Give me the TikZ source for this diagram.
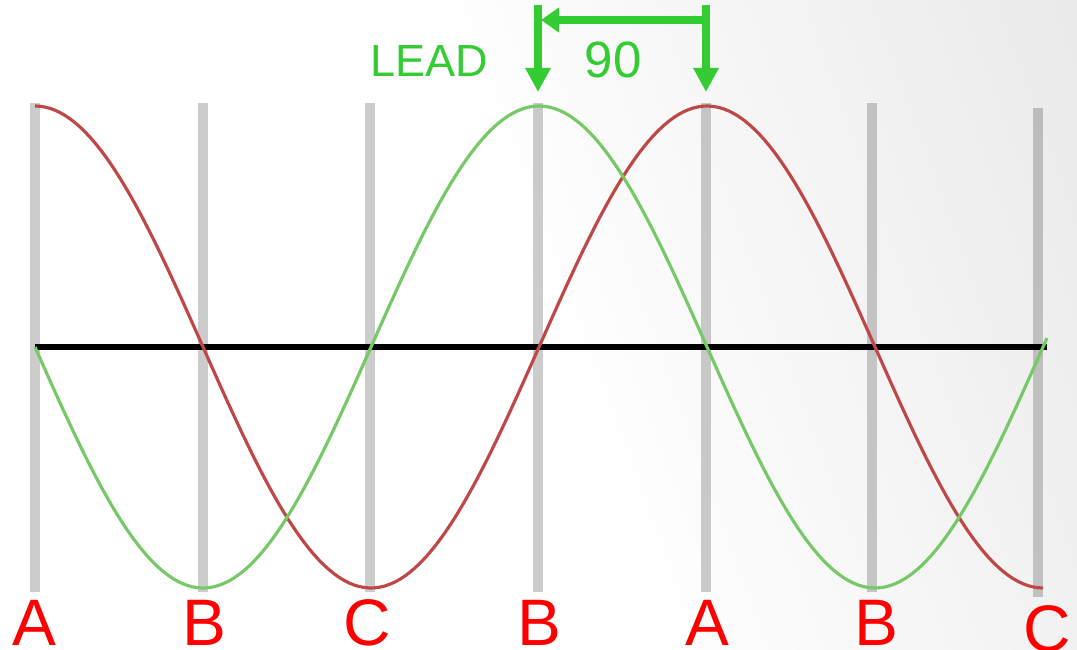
\documentclass[tikz,border=0pt]{standalone}
\usepackage{fontspec}
\setmainfont{Liberation Sans}
\usetikzlibrary{arrows.meta}
\definecolor{leadgreen}{RGB}{51,204,51}
\definecolor{wavered}{RGB}{190,72,72}
\definecolor{wavegreen}{RGB}{118,200,104}
\pgfdeclarehorizontalshading{bgfade}{100bp}{color(0bp)=(white); color(50bp)=(white); color(100bp)=(black!13)}

\begin{document}
\begin{tikzpicture}[x=0.01cm,y=-0.01cm,
  >={Triangle[length=2.4mm,width=2.4mm]},
  bar/.style={line width=2.6pt,draw=black,draw opacity=0.2},
  axisline/.style={line width=1.7pt,black},
  redwave/.style={line width=0.9pt,wavered},
  greenwave/.style={line width=0.9pt,wavegreen},
  phase/.style={line width=2.3pt,leadgreen,->},
  lbl/.style={text=red,font=\fontsize{18.7}{20}\selectfont,anchor=base},
  every node/.style={inner sep=0pt}]
  \useasboundingbox (0,0) rectangle (1077,649);
  \shade[shading=bgfade,shading angle=20] (0,0) rectangle (1077,649);
  % phase lines
  \foreach \xpos/\ytop/\ybot in {35/103/592,203/103/592,370/103/592,538/103/592,706/103/592,872/103/592,1038/108/597}
    \draw[bar] (\xpos,\ytop) -- (\xpos,\ybot);
  \draw[axisline] (35,347) -- (1047,347);
  % waves
  \draw[redwave] plot[domain=35:1043,samples=200] (\x,{347-241*cos((\x-35)/672*360)});
  \draw[greenwave] plot[domain=35:1047,samples=200] (\x,{347+241*sin((\x-35)/672*360)});
  \foreach \xpos/\ybase/\lab [count=\i] in {34/645/A,204/645/B,367/645/C,539/645/B,707/645/A,876/645/B,1047/651/C}
    \node[lbl] (lab\i) at (\xpos,\ybase) {\lab};
  % lead marker
  \node[text=leadgreen,font=\fontsize{12.8}{14}\selectfont,anchor=base] (lead) at (429,77) {LEAD};
  \node[text=leadgreen,font=\fontsize{14.5}{16}\selectfont,anchor=base] (deg) at (613,78) {90};
  \coordinate (leadTop) at (538,5);
  \coordinate (leadTip) at (538,92);
  \coordinate (lagTop) at (706,5);
  \coordinate (lagTip) at (706,92);
  \coordinate (gapR) at (706,20);
  \coordinate (gapL) at (541,20);
  \draw[phase] (leadTop) -- (leadTip);
  \draw[phase] (lagTop) -- (lagTip);
  \draw[phase,-{Triangle[length=1.8mm,width=2.4mm]}] (gapR) -- (gapL);
\end{tikzpicture}
\end{document}
